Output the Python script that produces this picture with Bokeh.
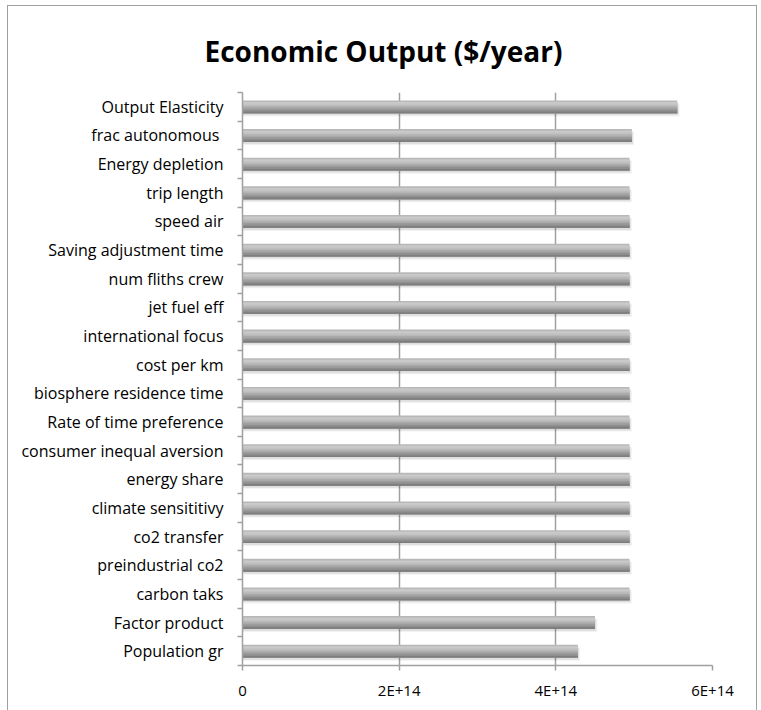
from bokeh.plotting import figure
from bokeh.models import FixedTicker, Range1d
from bokeh.embed import file_html
from bokeh.resources import INLINE

# ---- data (top to bottom as shown) ----
categories = [
    "Output Elasticity", "frac autonomous ", "Energy depletion", "trip length",
    "speed air", "Saving adjustment time", "num fliths crew", "jet fuel eff",
    "international focus", "cost per km", "biosphere residence time",
    "Rate of time preference", "consumer inequal aversion", "energy share",
    "climate sensititivy", "co2 transfer", "preindustrial co2", "carbon taks",
    "Factor product", "Population gr",
]
output_values = [
    5.55e14, 4.97e14, 4.94e14, 4.94e14, 4.94e14, 4.94e14, 4.94e14, 4.94e14,
    4.94e14, 4.94e14, 4.94e14, 4.94e14, 4.94e14, 4.94e14, 4.94e14, 4.94e14,
    4.94e14, 4.94e14, 4.50e14, 4.28e14,
]
x_ticks = [0, 2e14, 4e14, 6e14]
x_tick_labels = ["0", "2E+14", "4E+14", "6E+14"]
title_text = "Economic Output ($/year)"

FONT = "Open Sans"
n = len(categories)
ypos = [n - 0.5 - i for i in range(n)]

W, H = 750, 705
p = figure(width=W, height=H, output_backend="svg", toolbar_location=None,
           x_range=Range1d(0, 6e14), y_range=Range1d(0, n),
           min_border_left=234, min_border_right=46, min_border_top=86,
           min_border_bottom=46, title=title_text)
p.styles = {"border-top": "1.5px solid #a0a0a0",
            "border-left": "1.5px solid #a0a0a0",
            "border-right": "1.5px solid #a0a0a0",
            "box-sizing": "border-box",
            "margin-left": "7px", "margin-top": "5px"}
p.outline_line_color = None
p.background_fill_color = "white"
p.border_fill_color = "white"

# title, shifted left so it is centred over the whole chart
p.title.align = "left"
p.title.offset = -38
p.title.standoff = 46
p.title.text_font = FONT
p.title.text_font_size = "28px"
p.title.text_font_style = "bold"
p.title.text_color = "black"

# soft shadows
for dy, dx, a in [(0.11, 3e12, 0.05), (0.07, 1.5e12, 0.08)]:
    p.hbar(y=[v - dy for v in ypos], right=[v + dx for v in output_values],
           left=0, height=0.45, fill_color="black", fill_alpha=a, line_color=None)

# gradient bar built from overlapping strips (each reaches the bar bottom)
grad = ["#b8b8b8", "#cacaca", "#c4c4c4", "#b8b8b8", "#a9a9a9",
        "#9b9b9b", "#8d8d8d", "#7e7e7e"]
bh = 0.45
sh = bh / len(grad)
for k, c in enumerate(grad):
    hk = bh - k * sh
    p.hbar(y=[v - bh / 2 + hk / 2 for v in ypos], right=output_values, left=0,
           height=hk, fill_color=c, line_color=None)

# x axis
xa = p.xaxis[0]
xa.ticker = FixedTicker(ticks=x_ticks)
xa.major_label_overrides = {t: l for t, l in zip(x_ticks, x_tick_labels)}
xa.axis_line_color = "#a0a0a0"
xa.axis_line_width = 1.5
xa.major_tick_line_color = "#a0a0a0"
xa.major_tick_line_width = 1.5
xa.major_tick_out = 5
xa.major_tick_in = 0
xa.minor_tick_line_color = None
xa.major_label_standoff = 9
xa.major_label_text_font = FONT
xa.major_label_text_font_size = "15px"
xa.major_label_text_color = "black"

# y axis: labels at category centres, ticks at boundaries
ya = p.yaxis[0]
ya.ticker = FixedTicker(ticks=ypos, minor_ticks=list(range(n + 1)))
ya.major_label_overrides = {y: c for y, c in zip(ypos, categories)}
ya.axis_line_color = "#a0a0a0"
ya.axis_line_width = 1.5
ya.major_tick_line_color = None
ya.major_tick_out = 0
ya.major_tick_in = 0
ya.minor_tick_line_color = "#a0a0a0"
ya.minor_tick_line_width = 1.5
ya.minor_tick_out = 5
ya.minor_tick_in = 0
ya.major_label_standoff = 14
ya.major_label_text_font = FONT
ya.major_label_text_font_size = "16px"
ya.major_label_text_color = "black"

p.xgrid.ticker = FixedTicker(ticks=x_ticks[1:])
p.xgrid.grid_line_color = "#a0a0a0"
p.xgrid.grid_line_width = 1.5
p.ygrid.grid_line_color = None

open("out.html", "w").write(file_html(p, INLINE))
